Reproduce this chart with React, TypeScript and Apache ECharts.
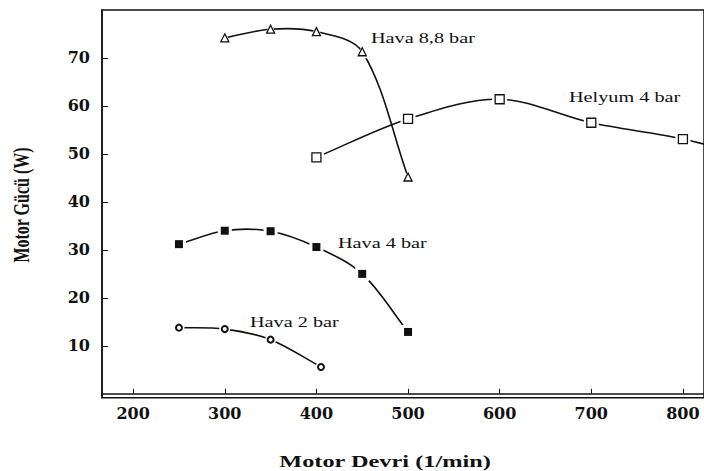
import React, { useEffect, useRef } from "react";
import * as echarts from "echarts";

const xTicks = [200, 300, 400, 500, 600, 700, 800];
const yTicks = [10, 20, 30, 40, 50, 60, 70];

const hava88X = [300, 350, 400, 450, 500];
const hava88Y = [74.2, 76.0, 75.5, 71.3, 45.2];
const helyumX = [400, 500, 600, 700, 800, 900];
const helyumY = [49.3, 57.3, 61.4, 56.5, 53.1, 48.0];
const hava4X = [250, 300, 350, 400, 450, 500];
const hava4Y = [31.2, 34.0, 33.9, 30.6, 25.0, 12.9];
const hava2X = [250, 300, 350, 405];
const hava2Y = [13.8, 13.5, 11.3, 5.6];

const labelTexts = ["Hava 8,8 bar", "Helyum 4 bar", "Hava 4 bar", "Hava 2 bar"];

function pairs(xs: number[], ys: number[]) {
  return xs.map((x, i) => [x, ys[i]]);
}

function dist(a: number[], b: number[]) {
  return Math.hypot(b[0] - a[0], b[1] - a[1]) || 1;
}

function splinePath(pts: number[][]) {
  // chord-length parametrised cubic spline through the pixel points
  const n = pts.length;
  const tang: number[][] = [];
  for (let i = 0; i < n; i++) {
    if (i === 0) {
      const d = dist(pts[0], pts[1]);
      tang.push([(pts[1][0] - pts[0][0]) / d, (pts[1][1] - pts[0][1]) / d]);
    } else if (i === n - 1) {
      const d = dist(pts[n - 2], pts[n - 1]);
      tang.push([(pts[n - 1][0] - pts[n - 2][0]) / d, (pts[n - 1][1] - pts[n - 2][1]) / d]);
    } else {
      const d = dist(pts[i - 1], pts[i]) + dist(pts[i], pts[i + 1]);
      tang.push([(pts[i + 1][0] - pts[i - 1][0]) / d, (pts[i + 1][1] - pts[i - 1][1]) / d]);
    }
  }
  let d = "M" + pts[0][0] + " " + pts[0][1];
  for (let i = 0; i < n - 1; i++) {
    const p1 = pts[i];
    const p2 = pts[i + 1];
    const L = dist(p1, p2) / 3;
    const c1x = p1[0] + tang[i][0] * L;
    const c1y = p1[1] + tang[i][1] * L;
    const c2x = p2[0] - tang[i + 1][0] * L;
    const c2y = p2[1] - tang[i + 1][1] * L;
    d += " C" + c1x + " " + c1y + " " + c2x + " " + c2y + " " + p2[0] + " " + p2[1];
  }
  return d;
}

function build(
  name: string,
  xs: number[],
  ys: number[],
  symbol: string,
  size: number,
  fill: string,
  borderW: number,
  maskSize: number
) {
  const data = pairs(xs, ys);
  return [
    {
      name: name + " line",
      type: "custom",
      data,
      z: 2,
      silent: true,
      clip: true,
      renderItem: (params: any, api: any) => {
        if (params.dataIndex !== 0) return null;
        const pts = data.map((p) => api.coord(p));
        const cs = params.coordSys;
        return {
          type: "path",
          shape: { pathData: splinePath(pts) },
          style: { stroke: "#111", lineWidth: 1.6, fill: "none" },
          clipPath: {
            type: "rect",
            shape: { x: cs.x, y: cs.y, width: cs.width, height: cs.height },
          },
        };
      },
    },
    {
      name: name + " gap",
      type: "scatter",
      data,
      symbol,
      symbolSize: maskSize,
      itemStyle: { color: "#fff", opacity: 1 },
      z: 3,
      silent: true,
    },
    {
      name,
      type: "scatter",
      data,
      symbol,
      symbolSize: size,
      itemStyle: { color: fill, borderColor: "#111", borderWidth: borderW, opacity: 1 },
      z: 4,
      silent: true,
    },
  ];
}

export default function App() {
  const ref = useRef<HTMLDivElement>(null);
  useEffect(() => {
    if (!ref.current) return;
    const chart = echarts.init(ref.current, undefined, { renderer: "svg" });
    const serifAnn = "'Liberation Serif', 'Times New Roman', serif";
    const option: any = {
      animation: false,
      backgroundColor: "#fff",
      grid: {
        left: 102,
        right: -2,
        top: 10,
        bottom: 73.3,
        show: true,
        borderColor: "#111",
        borderWidth: 1.5,
        containLabel: false,
      },
      xAxis: {
        type: "value",
        min: 166,
        max: 823,
        splitLine: { show: false },
        axisLine: { show: true, lineStyle: { color: "#111", width: 1.5 } },
        axisTick: {
          show: true,
          inside: true,
          length: 5,
          customValues: xTicks,
          lineStyle: { color: "#111", width: 1 },
        },
        axisLabel: {
          customValues: xTicks,
          margin: 8,
          fontFamily: "'DejaVu Serif', serif",
          fontWeight: "bold",
          fontSize: 16,
          color: "#111",
        },
      },
      yAxis: {
        type: "value",
        min: -0.8,
        max: 80,
        splitLine: { show: false },
        axisLine: { show: true, lineStyle: { color: "#111", width: 1.5 } },
        axisTick: {
          show: true,
          inside: true,
          length: 6,
          customValues: yTicks,
          lineStyle: { color: "#111", width: 1 },
        },
        axisLabel: {
          customValues: yTicks,
          margin: 12,
          fontFamily: "'DejaVu Serif', serif",
          fontWeight: "bold",
          fontSize: 16,
          color: "#111",
        },
      },
      series: [
        ...build("Hava 8,8 bar", hava88X, hava88Y, "triangle", 8, "#fff", 1.3, 13),
        ...build("Helyum 4 bar", helyumX, helyumY, "rect", 9, "#fff", 1.3, 15),
        ...build("Hava 4 bar", hava4X, hava4Y, "rect", 8, "#111", 0, 14),
        ...build("Hava 2 bar", hava2X, hava2Y, "circle", 6, "#fff", 2, 11),
      ],
      graphic: [
        {
          type: "text",
          x: 371,
          y: 38,
          scaleX: 1.35,
          style: { text: labelTexts[0], fontFamily: serifAnn, fontSize: 15, fill: "#111", align: "left", verticalAlign: "middle" },
        },
        {
          type: "text",
          x: 569,
          y: 97,
          scaleX: 1.35,
          style: { text: labelTexts[1], fontFamily: serifAnn, fontSize: 15, fill: "#111", align: "left", verticalAlign: "middle" },
        },
        {
          type: "text",
          x: 338,
          y: 243,
          scaleX: 1.35,
          style: { text: labelTexts[2], fontFamily: serifAnn, fontSize: 15, fill: "#111", align: "left", verticalAlign: "middle" },
        },
        {
          type: "text",
          x: 250,
          y: 322,
          scaleX: 1.35,
          style: { text: labelTexts[3], fontFamily: serifAnn, fontSize: 15, fill: "#111", align: "left", verticalAlign: "middle" },
        },
        {
          type: "text",
          x: 385,
          y: 461,
          scaleX: 1.43,
          style: {
            text: "Motor Devri (1/min)",
            fontFamily: serifAnn,
            fontWeight: "bold",
            fontSize: 17,
            fill: "#111",
            align: "center",
            verticalAlign: "middle",
          },
        },
        {
          type: "text",
          x: 22,
          y: 205,
          rotation: Math.PI / 2,
          scaleY: 1.4,
          style: {
            text: "Motor Gücü (W)",
            fontFamily: serifAnn,
            fontWeight: "bold",
            fontSize: 16,
            fill: "#111",
            align: "center",
            verticalAlign: "middle",
          },
        },
      ],
    };
    chart.setOption(option);
    return () => chart.dispose();
  }, []);
  return (
    <div
      ref={ref}
      style={{ position: "absolute", left: 0, top: 0, width: 704, height: 471, background: "#fff" }}
    />
  );
}
